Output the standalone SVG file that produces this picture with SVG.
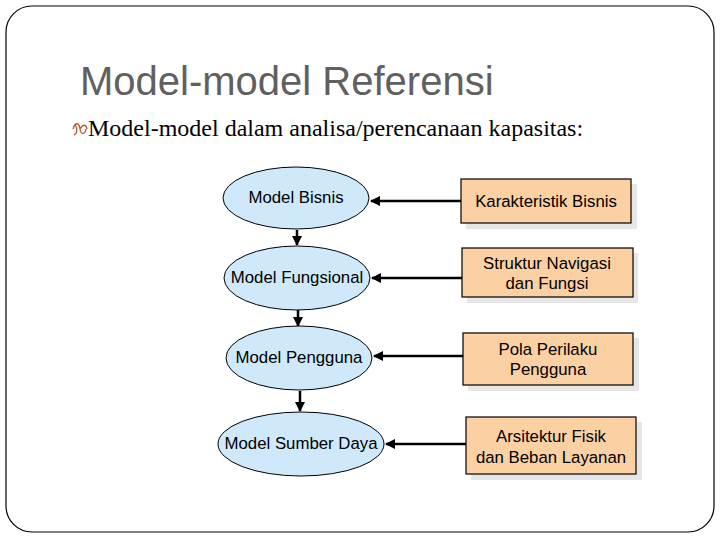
<svg xmlns="http://www.w3.org/2000/svg" width="720" height="540" viewBox="0 0 720 540">
<style>
.ell{fill:#cfe9fb;stroke:#000;stroke-width:1}
.box{fill:#fbd0a2;stroke:#000;stroke-width:1.2}
.sh{fill:#e6e6e6}
.lbl{font-family:"Liberation Sans",Arial,sans-serif;font-size:16.8px;fill:#000;text-anchor:middle}
.con{stroke:#000;stroke-width:2.5;fill:none}
</style>
<defs>
<marker id="ah" viewBox="0 0 10 10" refX="9" refY="5" markerWidth="4" markerHeight="4" orient="auto" markerUnits="strokeWidth">
<path d="M0,0 L10,5 L0,10 z" fill="#000"/>
</marker>
</defs>
<rect x="0" y="0" width="720" height="540" fill="#fff"/>
<rect x="6" y="6" width="708" height="526" rx="26" ry="26" fill="#fff" stroke="#000" stroke-width="1.2"/>
<text x="80" y="95" font-family="Liberation Sans,Arial,sans-serif" font-size="40" fill="#606060">Model-model Referensi</text>
<path d="M73,129 c2,-7 6,-7 7,0 c1,6 5,6 6,0 M75,124 c2,4 3,9 -1,11 M80,129 c3,-5 6,-5 7,0" stroke="#b35c2e" stroke-width="1.3" fill="none"/>
<text x="88" y="136" font-family="Liberation Serif,Times New Roman,serif" font-size="24" fill="#000">Model-model dalam analisa/perencanaan kapasitas:</text>

<g id="connectors">
<line class="con" x1="297" y1="230" x2="297" y2="245" marker-end="url(#ah)"/>
<line class="con" x1="298" y1="310" x2="298" y2="326" marker-end="url(#ah)"/>
<line class="con" x1="300" y1="391" x2="300" y2="411" marker-end="url(#ah)"/>
<line class="con" x1="461" y1="201" x2="371" y2="201" marker-end="url(#ah)"/>
<line class="con" x1="462" y1="278" x2="372" y2="278" marker-end="url(#ah)"/>
<line class="con" x1="463" y1="356" x2="374" y2="356" marker-end="url(#ah)"/>
<line class="con" x1="466" y1="444" x2="386" y2="444" marker-end="url(#ah)"/>
</g>

<g id="n-bisnis"><ellipse class="ell" cx="296" cy="198" rx="73" ry="31"/><text class="lbl" x="296" y="203">Model Bisnis</text></g>
<g id="n-fungsional"><ellipse class="ell" cx="297" cy="278" rx="73" ry="32"/><text class="lbl" x="297" y="283">Model Fungsional</text></g>
<g id="n-pengguna"><ellipse class="ell" cx="299" cy="358" rx="73" ry="32"/><text class="lbl" x="299" y="363">Model Pengguna</text></g>
<g id="n-sumber"><ellipse class="ell" cx="301" cy="444" rx="83" ry="32"/><text class="lbl" x="301" y="449">Model Sumber Daya</text></g>

<g id="r-karakteristik"><rect class="sh" x="466" y="184" width="171" height="45"/><rect class="box" x="461" y="179" width="170" height="44"/><text class="lbl" x="546" y="207">Karakteristik Bisnis</text></g>
<g id="r-struktur"><rect class="sh" x="467" y="253" width="171" height="50"/><rect class="box" x="462" y="248" width="171" height="49"/><text class="lbl" x="547" y="269">Struktur Navigasi</text><text class="lbl" x="547" y="289">dan Fungsi</text></g>
<g id="r-pola"><rect class="sh" x="468" y="338" width="171" height="53"/><rect class="box" x="463" y="333" width="170" height="52"/><text class="lbl" x="548" y="355">Pola Perilaku</text><text class="lbl" x="548" y="375">Pengguna</text></g>
<g id="r-arsitektur"><rect class="sh" x="471" y="422" width="171" height="58"/><rect class="box" x="466" y="417" width="170" height="57"/><text class="lbl" x="551" y="442">Arsitektur Fisik</text><text class="lbl" x="551" y="463">dan Beban Layanan</text></g>
</svg>
